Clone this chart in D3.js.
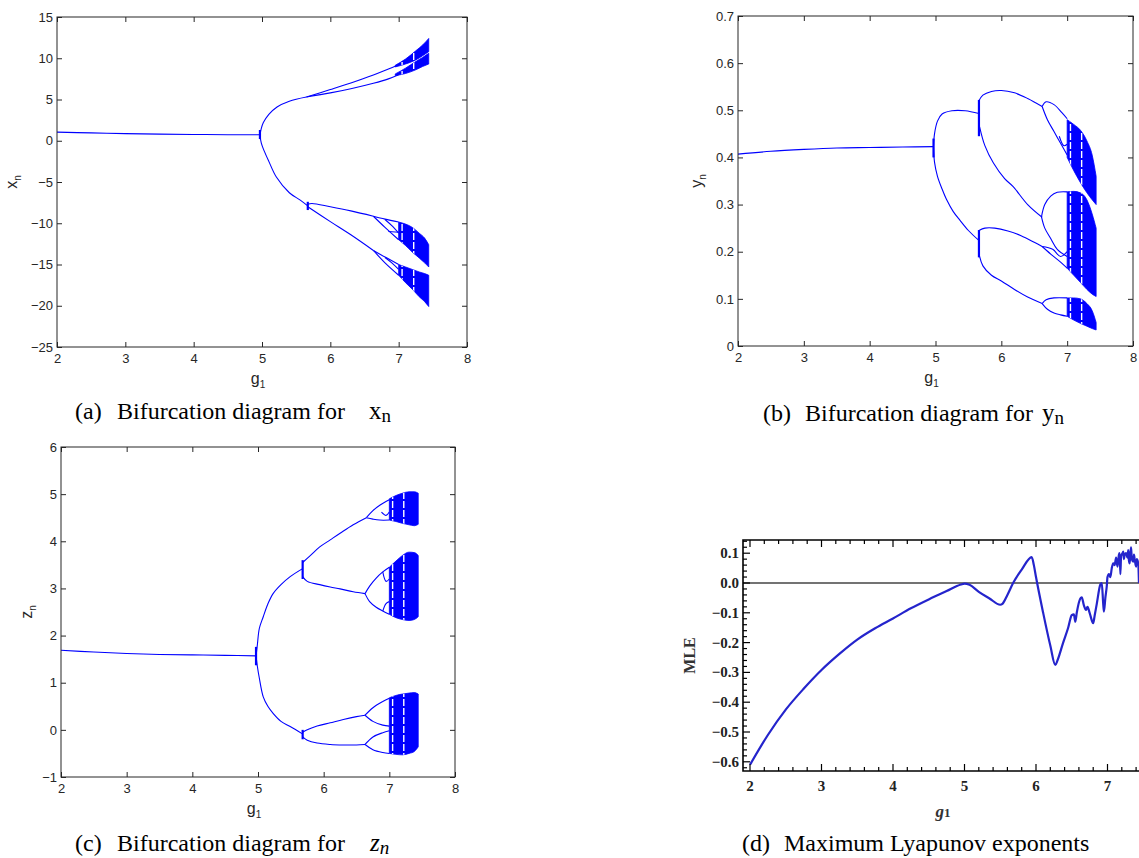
<!DOCTYPE html>
<html>
<head>
<meta charset="utf-8">
<script src="https://cdn.jsdelivr.net/npm/d3@7"></script>
<style>
body { margin: 0; background: #fff; }
svg { display: block; }
</style>
</head>
<body>
<svg id="fig" width="1139" height="858"></svg>
<script>
const svg = d3.select("#fig");
const BLUE = "#0000ff";

// ---- shared ----
const gTicks = [2, 3, 4, 5, 6, 7, 8];
const windowsG = [7.05, 7.22]; // periodic windows (white stripes in chaos)

// ---- (a) x_n ----
const xnTicks = [-25, -20, -15, -10, -5, 0, 5, 10, 15];
const xnFixed = [[2, 1.05], [2.5, 0.95], [3, 0.86], [3.5, 0.8], [4, 0.76], [4.5, 0.73], [4.97, 0.72]];
const xnSpikes = [[[4.97, 1.3], [4.97, 0.2]], [[5.67, -7.4], [5.67, -8.4]]];
const xnUp = [[4.97, 0.72], [4.99, 1.5], [5.02, 2.2], [5.1, 3.2], [5.22, 4.1], [5.4, 4.8], [5.65, 5.3]];
const xnUp1 = [[5.65, 5.3], [6.0, 6.2], [6.3, 7.0], [6.63, 7.97], [6.85, 8.7], [7.0, 9.2]];
const xnUp2 = [[5.65, 5.3], [6.0, 5.8], [6.3, 6.3], [6.63, 6.96], [6.85, 7.5], [7.0, 8.0]];
const xnDown = [[4.97, 0.72], [4.99, -0.3], [5.03, -1.2], [5.1, -2.5], [5.21, -4.4], [5.4, -6.3], [5.56, -7.2], [5.67, -7.9]];
const xnD1 = [[5.67, -7.7], [5.73, -7.6], [6.0, -8.0], [6.3, -8.5], [6.63, -9.15]];
const xnD1a = [[6.63, -9.15], [6.8, -9.5], [7.0, -9.85]];
const xnD1b = [[6.63, -9.15], [6.8, -10.5], [7.0, -12.0]];
const xnD1c = [[6.8, -9.55], [6.9, -10.3], [7.0, -11.2]];
const xnD1d = [[6.85, -11.0], [7.0, -11.1]];
const xnD2 = [[5.67, -8.0], [6.0, -9.8], [6.3, -11.4], [6.63, -13.3]];
const xnD2a = [[6.63, -13.3], [6.8, -14.1], [7.0, -15.0]];
const xnD2b = [[6.63, -13.3], [6.8, -14.8], [7.0, -16.3]];
const xnD2c = [[6.8, -14.15], [6.9, -14.8], [7.0, -15.6]];
const xnBandUp1 = [[6.95, 8.95, 9.15], [7.1, 9.3, 9.9], [7.25, 9.8, 10.9], [7.35, 10.3, 11.6], [7.44, 10.8, 12.4]];
const xnBandUp2 = [[6.95, 7.9, 8.1], [7.1, 8.15, 8.8], [7.25, 8.6, 9.6], [7.35, 9.0, 10.1], [7.44, 9.3, 10.6]];
const xnBandD1 = [[7.0, -12.0, -9.85], [7.1, -12.7, -10.1], [7.2, -13.5, -10.5], [7.3, -14.2, -11.2], [7.38, -14.8, -11.8], [7.44, -15.3, -12.6]];
const xnBandD2 = [[7.0, -16.3, -15.0], [7.1, -17.2, -15.3], [7.2, -18.0, -15.6], [7.3, -18.9, -15.9], [7.38, -19.5, -16.1], [7.44, -20.1, -16.3]];

// ---- (b) y_n ----
const ynTicks = [0, 0.1, 0.2, 0.3, 0.4, 0.5, 0.6, 0.7];
const ynFixed = [[2, 0.407], [2.5, 0.413], [3, 0.417], [3.5, 0.42], [4, 0.421], [4.5, 0.422], [4.97, 0.423]];
const ynSpikes = [[[4.97, 0.44], [4.97, 0.40]], [[5.66, 0.522], [5.66, 0.445]], [[5.66, 0.246], [5.66, 0.188]]];
const ynUp = [[4.97, 0.423], [4.985, 0.45], [5.03, 0.477], [5.1, 0.492], [5.25, 0.499], [5.45, 0.499], [5.66, 0.493]];
const ynDown = [[4.97, 0.423], [4.985, 0.39], [5.03, 0.36], [5.1, 0.333], [5.17, 0.31], [5.27, 0.285], [5.37, 0.267], [5.5, 0.245], [5.65, 0.225]];
const ynU1Top = [[5.66, 0.52], [5.72, 0.532], [5.85, 0.54], [6.0, 0.542], [6.2, 0.537], [6.4, 0.525], [6.62, 0.508]];
const ynU1Bot = [[5.67, 0.465], [5.75, 0.425], [5.88, 0.388], [6.05, 0.355], [6.18, 0.338], [6.4, 0.3], [6.62, 0.273]];
const ynL1Top = [[5.66, 0.245], [5.75, 0.25], [5.9, 0.25], [6.1, 0.244], [6.3, 0.234], [6.5, 0.22], [6.62, 0.211]];
const ynL1Bot = [[5.67, 0.19], [5.72, 0.17], [5.85, 0.15], [6.0, 0.138], [6.2, 0.12], [6.4, 0.104], [6.62, 0.09]];
const ynG1Top = [[6.62, 0.508], [6.68, 0.518], [6.8, 0.512], [6.92, 0.495], [7.0, 0.482]];
const ynG1Bot = [[6.62, 0.508], [6.7, 0.48], [6.8, 0.455], [6.9, 0.43], [7.0, 0.405]];
const ynG1In = [[6.88, 0.445], [6.95, 0.425], [7.0, 0.428]];
const ynG2Top = [[6.61, 0.274], [6.66, 0.3], [6.75, 0.318], [6.85, 0.326], [7.0, 0.327]];
const ynG2Bot = [[6.61, 0.274], [6.66, 0.25], [6.75, 0.228], [6.85, 0.205], [7.0, 0.19]];
const ynG3 = [[6.62, 0.211], [6.75, 0.195], [6.9, 0.178], [7.0, 0.165]];
const ynG3b = [[6.62, 0.211], [6.78, 0.205], [6.9, 0.19], [7.0, 0.2]];
const ynG4Top = [[6.62, 0.09], [6.68, 0.098], [6.8, 0.102], [7.0, 0.102]];
const ynG4Bot = [[6.62, 0.09], [6.7, 0.078], [6.8, 0.07], [6.9, 0.066], [7.0, 0.063]];
const ynBand1 = [[7.0, 0.40, 0.48], [7.1, 0.372, 0.47], [7.2, 0.347, 0.458], [7.3, 0.325, 0.435], [7.38, 0.31, 0.405], [7.44, 0.30, 0.36]];
const ynBand2 = [[7.0, 0.165, 0.327], [7.1, 0.15, 0.328], [7.2, 0.135, 0.325], [7.3, 0.12, 0.31], [7.38, 0.11, 0.28], [7.44, 0.105, 0.25]];
const ynBand3 = [[7.0, 0.063, 0.102], [7.1, 0.055, 0.102], [7.2, 0.048, 0.1], [7.3, 0.042, 0.09], [7.38, 0.037, 0.075], [7.44, 0.034, 0.05]];

// ---- (c) z_n ----
const znTicks = [-1, 0, 1, 2, 3, 4, 5, 6];
const znFixed = [[2, 1.69], [2.5, 1.65], [3, 1.62], [3.5, 1.6], [4, 1.59], [4.5, 1.58], [4.97, 1.57]];
const znSpikes = [[[4.97, 1.76], [4.97, 1.37]], [[5.68, 3.6], [5.68, 3.2]], [[5.68, 0.0], [5.68, -0.2]]];
const znUp = [[4.97, 1.57], [4.99, 1.8], [5.02, 2.15], [5.08, 2.4], [5.15, 2.67], [5.23, 2.89], [5.35, 3.08], [5.49, 3.25], [5.68, 3.42]];
const znU1 = [[5.68, 3.55], [5.8, 3.7], [5.94, 3.88], [6.1, 4.03], [6.25, 4.17], [6.45, 4.35], [6.65, 4.5]];
const znU1Top = [[6.65, 4.5], [6.75, 4.65], [6.86, 4.77], [7.0, 4.88]];
const znU1Bot = [[6.65, 4.5], [6.75, 4.47], [6.85, 4.45], [7.0, 4.45]];
const znU1In = [[6.88, 4.62], [6.95, 4.55], [7.0, 4.62]];
const znM = [[5.68, 3.25], [5.75, 3.15], [5.94, 3.08], [6.1, 3.03], [6.25, 2.99], [6.45, 2.93], [6.63, 2.89]];
const znMTop = [[6.63, 2.89], [6.7, 3.05], [6.8, 3.22], [6.9, 3.35], [7.0, 3.45]];
const znMBot = [[6.63, 2.89], [6.7, 2.72], [6.8, 2.6], [6.9, 2.52], [7.0, 2.45]];
const znMIn1 = [[6.9, 3.35], [6.95, 3.15], [7.0, 3.2]];
const znMIn2 = [[6.9, 2.52], [6.95, 2.68], [7.0, 2.72]];
const znDown = [[4.97, 1.57], [4.99, 1.35], [5.02, 1.1], [5.08, 0.7], [5.15, 0.5], [5.23, 0.35], [5.35, 0.18], [5.49, 0.07], [5.67, -0.08]];
const znLTop = [[5.68, -0.05], [5.75, 0.0], [5.9, 0.08], [6.1, 0.15], [6.3, 0.22], [6.5, 0.28], [6.63, 0.31]];
const znLBot = [[5.68, -0.15], [5.75, -0.22], [5.9, -0.28], [6.1, -0.31], [6.3, -0.32], [6.5, -0.32], [6.63, -0.31]];
const znL1Top = [[6.63, 0.31], [6.75, 0.47], [6.9, 0.6], [7.0, 0.67]];
const znL1Bot = [[6.63, 0.31], [6.75, 0.18], [6.9, 0.1], [7.0, 0.08]];
const znL2Top = [[6.63, -0.31], [6.75, -0.15], [6.9, -0.06], [7.0, -0.02]];
const znL2Bot = [[6.63, -0.31], [6.75, -0.42], [6.9, -0.48], [7.0, -0.5]];
const znBand1 = [[7.0, 4.45, 4.9], [7.1, 4.42, 4.97], [7.2, 4.38, 5.02], [7.3, 4.35, 5.05], [7.38, 4.33, 5.05], [7.44, 4.36, 5.02]];
const znBand2 = [[7.0, 2.45, 3.45], [7.1, 2.38, 3.58], [7.2, 2.34, 3.7], [7.3, 2.32, 3.77], [7.38, 2.34, 3.76], [7.44, 2.4, 3.7]];
const znBand3 = [[7.0, -0.5, 0.68], [7.1, -0.52, 0.73], [7.2, -0.53, 0.76], [7.3, -0.5, 0.78], [7.38, -0.46, 0.79], [7.44, -0.36, 0.76]];

// ---- (d) MLE ----
const mleTicks = [-0.6, -0.5, -0.4, -0.3, -0.2, -0.1, 0.0, 0.1];
const mleCurve = [
  [2, -0.61], [2.25, -0.51], [2.5, -0.425], [2.75, -0.355], [3, -0.292], [3.25, -0.238], [3.5, -0.19],
  [3.75, -0.152], [4, -0.119], [4.25, -0.085], [4.5, -0.055], [4.75, -0.027], [4.95, -0.005], [5.0, -0.002],
  [5.07, -0.006], [5.2, -0.03], [5.35, -0.052], [5.5, -0.073], [5.53, -0.07], [5.6, -0.04], [5.68, 0.0],
  [5.8, 0.045], [5.94, 0.087], [5.97, 0.06], [6.0, 0.02], [6.1, -0.1], [6.2, -0.21], [6.27, -0.275],
  [6.3, -0.26], [6.38, -0.2], [6.45, -0.15], [6.5, -0.108], [6.53, -0.105], [6.55, -0.13], [6.57, -0.1],
  [6.62, -0.052], [6.64, -0.048], [6.67, -0.075], [6.7, -0.09], [6.72, -0.08], [6.75, -0.1], [6.8, -0.135],
  [6.82, -0.11], [6.85, -0.07], [6.9, -0.005], [6.92, 0.0], [6.94, -0.07], [6.95, -0.096], [6.97, -0.05],
  [6.99, -0.01], [7.0, 0.02], [7.02, 0.03], [7.04, 0.02], [7.06, 0.05], [7.08, 0.066], [7.1, 0.06],
  [7.12, 0.085], [7.14, 0.055], [7.16, 0.095], [7.17, 0.1], [7.18, 0.03], [7.19, 0.09], [7.21, 0.1],
  [7.22, 0.105], [7.23, 0.08], [7.24, 0.095], [7.26, 0.1], [7.28, 0.085], [7.29, 0.11], [7.3, 0.075],
  [7.31, 0.066], [7.32, 0.1], [7.33, 0.12], [7.34, 0.08], [7.36, 0.072], [7.37, 0.095], [7.38, 0.08],
  [7.4, 0.055], [7.41, 0.08], [7.43, 0.065], [7.44, 0.0]
];

// caption pieces: tag, phrase, variable + subscript
const captions = [
  { y: 419, tagX: 75, tag: "(a)", phraseX: 117, phrase: "Bifurcation diagram for", varX: 369, v: "x", sub: "n", italic: false },
  { y: 421, tagX: 763, tag: "(b)", phraseX: 805, phrase: "Bifurcation diagram for", varX: 1042, v: "y", sub: "n", italic: false },
  { y: 851, tagX: 75, tag: "(c)", phraseX: 117, phrase: "Bifurcation diagram for", varX: 370, v: "z", sub: "n", italic: true },
  { y: 851, tagX: 742, tag: "(d)", phraseX: 784, phrase: "Maximum Lyapunov exponents", varX: 0, v: "", sub: "", italic: false }
];

// ---- matlab style bifurcation panel ----
function drawBif(box, yDomain, yTicks, yFmt, yName, yLabelOff, branches, bands, idx) {
  const x = d3.scaleLinear().domain([2, 8]).range([box.left, box.right]);
  const y = d3.scaleLinear().domain(yDomain).range([box.bottom, box.top]);
  const g = svg.append("g");
  const isSpike = d => d.length === 2 && d[0][0] === d[1][0];
  const line = d3.line().x(d => x(d[0])).y(d => y(d[1])).curve(d3.curveCatmullRom.alpha(0.5));
  const area = d3.area().x(d => x(d[0])).y0(d => y(d[1])).y1(d => y(d[2])).curve(d3.curveMonotoneX);

  g.append("g").selectAll("path").data(branches).join("path")
    .attr("d", line)
    .attr("fill", "none").attr("stroke", BLUE)
    .attr("stroke-width", d => isSpike(d) ? 2.2 : 1.1);

  const clipId = "chaos" + idx;
  g.append("clipPath").attr("id", clipId).selectAll("path").data(bands).join("path").attr("d", area);
  g.append("g").selectAll("path").data(bands).join("path")
    .attr("d", area).attr("fill", BLUE).attr("stroke", BLUE).attr("stroke-width", 0.8);
  g.append("g").attr("clip-path", `url(#${clipId})`).selectAll("line").data(windowsG).join("line")
    .attr("x1", d => x(d)).attr("x2", d => x(d)).attr("y1", box.top).attr("y2", box.bottom)
    .attr("stroke", "#fff").attr("stroke-width", 1.4).attr("stroke-dasharray", "7,2");

  const axStyle = sel => {
    sel.select(".domain").remove();
    sel.selectAll("line").attr("stroke", "#262626");
    sel.selectAll("text").attr("font-family", "Liberation Sans, Arial, sans-serif")
      .attr("font-size", 13).attr("fill", "#262626");
  };
  g.append("g").attr("transform", `translate(0,${box.bottom})`)
    .call(d3.axisBottom(x).tickValues(gTicks).tickSize(-5).tickPadding(7).tickFormat(d3.format("d"))).call(axStyle);
  g.append("g").attr("transform", `translate(0,${box.top})`)
    .call(d3.axisTop(x).tickValues(gTicks).tickSize(-5).tickFormat("")).call(axStyle);
  g.append("g").attr("transform", `translate(${box.left},0)`)
    .call(d3.axisLeft(y).tickValues(yTicks).tickSize(-5).tickPadding(4).tickFormat(yFmt)).call(axStyle);
  g.append("g").attr("transform", `translate(${box.right},0)`)
    .call(d3.axisRight(y).tickValues(yTicks).tickSize(-5).tickFormat("")).call(axStyle);
  g.append("rect").attr("x", box.left).attr("y", box.top)
    .attr("width", box.right - box.left).attr("height", box.bottom - box.top)
    .attr("fill", "none").attr("stroke", "#262626").attr("stroke-width", 1);

  // axis labels
  const xl = g.append("text").attr("x", (box.left + box.right) / 2 - 4).attr("y", box.bottom + 37)
    .attr("text-anchor", "middle").attr("font-family", "Liberation Sans, Arial, sans-serif")
    .attr("font-size", 16).attr("fill", "#262626");
  xl.append("tspan").text("g");
  xl.append("tspan").attr("font-size", 10).attr("dy", 4).text("1");
  const ly = (box.top + box.bottom) / 2;
  const yl = g.append("text").attr("transform", `translate(${box.left - yLabelOff},${ly}) rotate(-90)`)
    .attr("text-anchor", "middle").attr("font-family", "Liberation Sans, Arial, sans-serif")
    .attr("font-size", 16).attr("fill", "#262626");
  yl.append("tspan").text(yName);
  yl.append("tspan").attr("font-size", 10).attr("dy", 4).text("n");
}

drawBif({ left: 57, right: 467, top: 17, bottom: 347 }, [-25, 15], xnTicks, d3.format("d"), "x", 40,
  [xnFixed, ...xnSpikes, xnUp, xnUp1, xnUp2, xnDown, xnD1, xnD1a, xnD1b, xnD1c, xnD1d, xnD2, xnD2a, xnD2b, xnD2c],
  [xnBandUp1, xnBandUp2, xnBandD1, xnBandD2], 0);

drawBif({ left: 738, right: 1133, top: 16, bottom: 346 }, [0, 0.7], ynTicks, d => d === 0 ? "0" : d3.format(".1f")(d), "y", 36,
  [ynFixed, ...ynSpikes, ynUp, ynDown, ynU1Top, ynU1Bot, ynL1Top, ynL1Bot, ynG1Top, ynG1Bot, ynG1In,
   ynG2Top, ynG2Bot, ynG3, ynG3b, ynG4Top, ynG4Bot],
  [ynBand1, ynBand2, ynBand3], 1);

drawBif({ left: 61, right: 455, top: 447, bottom: 777 }, [-1, 6], znTicks, d3.format("d"), "z", 29,
  [znFixed, ...znSpikes, znUp, znU1, znU1Top, znU1Bot, znU1In, znM, znMTop, znMBot, znMIn1, znMIn2,
   znDown, znLTop, znLBot, znL1Top, znL1Bot, znL2Top, znL2Bot],
  [znBand1, znBand2, znBand3], 2);

// ---- (d) mathematica style frame ----
(function drawMle() {
  const left = 743, top = 540, bottom = 771;
  const x = d3.scaleLinear().domain([2, 8]).range([750, 750 + 6 * 71.5]);
  const y = d3.scaleLinear().domain([0, 0.1]).range([583, 553.2]);
  const right = x(8);
  const g = svg.append("g");
  const serif = "Liberation Serif, Times New Roman, serif";

  g.append("line").attr("x1", left).attr("x2", right).attr("y1", y(0)).attr("y2", y(0))
    .attr("stroke", "#444").attr("stroke-width", 1.6);

  g.append("path").datum(mleCurve)
    .attr("d", d3.line().x(d => x(d[0])).y(d => y(d[1])).curve(d3.curveMonotoneX))
    .attr("fill", "none").attr("stroke", "#2424cc").attr("stroke-width", 2.2).attr("stroke-linejoin", "round");

  const minorX = d3.range(1.8, 8.01, 0.2).filter(v => x(v) > left + 1);
  const minorY = d3.range(-0.62, 0.141, 0.02).filter(v => y(v) < bottom - 1 && y(v) > top + 1);
  const isMajorX = v => Math.abs(v - Math.round(v)) < 1e-6;
  const isMajorY = v => Math.abs(v * 10 - Math.round(v * 10)) < 1e-6;

  g.append("g").selectAll("line").data(minorX).join("line")
    .attr("x1", d => x(d)).attr("x2", d => x(d)).attr("y1", bottom)
    .attr("y2", d => bottom - (isMajorX(d) ? 7 : 4)).attr("stroke", "#000").attr("stroke-width", 1.2);
  g.append("g").selectAll("line").data(minorX).join("line")
    .attr("x1", d => x(d)).attr("x2", d => x(d)).attr("y1", top)
    .attr("y2", d => top + (isMajorX(d) ? 7 : 4)).attr("stroke", "#000").attr("stroke-width", 1.2);
  g.append("g").selectAll("line").data(minorY).join("line")
    .attr("y1", d => y(d)).attr("y2", d => y(d)).attr("x1", left)
    .attr("x2", d => left + (isMajorY(d) ? 7 : 4)).attr("stroke", "#000").attr("stroke-width", 1.2);

  g.append("path").attr("d", `M${right},${top}H${left}V${bottom}H${right}`)
    .attr("fill", "none").attr("stroke", "#000").attr("stroke-width", 1.6);

  g.append("g").selectAll("text").data(gTicks.filter(d => d < 8)).join("text")
    .attr("x", d => x(d)).attr("y", bottom + 20).attr("text-anchor", "middle")
    .attr("font-family", serif).attr("font-weight", "bold").attr("font-size", 15).attr("fill", "#222")
    .text(d => d);
  g.append("g").selectAll("text").data(mleTicks).join("text")
    .attr("x", left - 4).attr("y", d => y(d) + 5).attr("text-anchor", "end")
    .attr("font-family", serif).attr("font-weight", "bold").attr("font-size", 15).attr("fill", "#222")
    .text(d => (d < 0 ? "\u2212" : "") + Math.abs(d).toFixed(1));

  const xl = g.append("text").attr("x", 943).attr("y", bottom + 46).attr("text-anchor", "middle")
    .attr("font-family", serif).attr("font-weight", "bold").attr("font-size", 17).attr("fill", "#333");
  xl.append("tspan").attr("font-style", "italic").text("g");
  xl.append("tspan").attr("font-size", 13).text("1");
  g.append("text").attr("transform", `translate(695,${(top + bottom) / 2}) rotate(-90)`)
    .attr("text-anchor", "middle").attr("font-family", serif).attr("font-weight", "bold")
    .attr("font-size", 16).attr("fill", "#333").text("MLE");
})();

// ---- captions ----
captions.forEach(c => {
  const serif = "Liberation Serif, Times New Roman, serif";
  const cg = svg.append("g").attr("font-family", serif).attr("font-size", 24).attr("fill", "#000");
  cg.append("text").attr("x", c.tagX).attr("y", c.y).text(c.tag);
  cg.append("text").attr("x", c.phraseX).attr("y", c.y).text(c.phrase);
  if (c.v) {
    const t = cg.append("text").attr("x", c.varX).attr("y", c.y)
      .attr("font-style", c.italic ? "italic" : "normal");
    t.append("tspan").attr("font-size", 25).text(c.v);
    t.append("tspan").attr("font-size", 19).attr("dy", 3).text(c.sub);
  }
});
</script>
</body>
</html>
